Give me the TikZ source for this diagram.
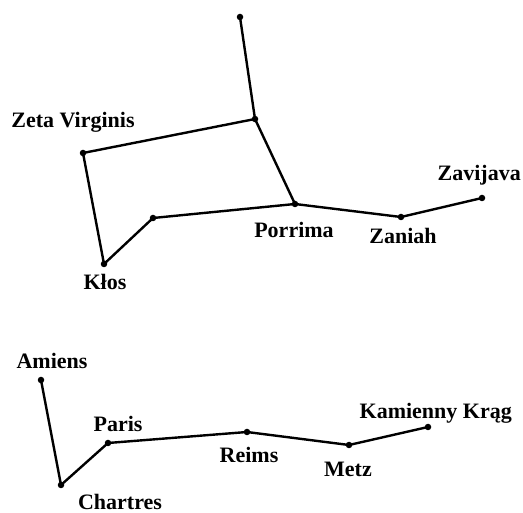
\documentclass[tikz,border=0pt]{standalone}
\usepackage{fontspec}
\setmainfont{Liberation Serif}
\tikzset{
  star/.style={circle,fill=black,inner sep=0pt,minimum size=6.5pt},
  lbl/.style={font=\fontsize{22}{24}\selectfont\bfseries,inner sep=0pt,anchor=center},
  link/.style={line width=2.4pt,line join=round,line cap=round}
}
\begin{document}
\begin{tikzpicture}[x=1pt,y=-1pt]
\useasboundingbox (0,0) rectangle (523,513);
% upper constellation
\node[star] (top) at (240,17) {};
\node[star] (j) at (255,119) {};
\node[star] (zeta) at (83,153) {};
\node[star] (porrima) at (295,204) {};
\node[star] (klos) at (104,264) {};
\node[star] (u) at (153,218) {};
\node[star] (zaniah) at (401,217) {};
\node[star] (zavijava) at (482,198) {};
\draw[link] (top.center) -- (j.center) -- (porrima.center) -- (zaniah.center) -- (zavijava.center);
\draw[link] (j.center) -- (zeta.center) -- (klos.center) -- (u.center) -- (porrima.center);
\node[lbl] (lzeta) at (73,122) {Zeta Virginis};
\node[lbl,anchor=east] (lzav) at (521,175) {Zavijava};
\node[lbl] (lpor) at (294,230) {Porrima};
\node[lbl] (lzan) at (403,236) {Zaniah};
\node[lbl] (lklos) at (105,282) {Kłos};
% lower constellation
\node[star] (amiens) at (41,380) {};
\node[star] (chartres) at (61,485) {};
\node[star] (paris) at (108,443) {};
\node[star] (reims) at (247,432) {};
\node[star] (metz) at (349,445) {};
\node[star] (krag) at (428,427) {};
\draw[link] (amiens.center) -- (chartres.center) -- (paris.center) -- (reims.center) -- (metz.center) -- (krag.center);
\node[lbl] (lamiens) at (52,361) {Amiens};
\node[lbl] (lparis) at (118,424) {Paris};
\node[lbl] (lreims) at (249,455) {Reims};
\node[lbl] (lmetz) at (348,469) {Metz};
\node[lbl,anchor=east] (lkrag) at (512,413) {Kamienny Krąg};
\node[lbl] (lchartres) at (120,502) {Chartres};
\end{tikzpicture}
\end{document}
